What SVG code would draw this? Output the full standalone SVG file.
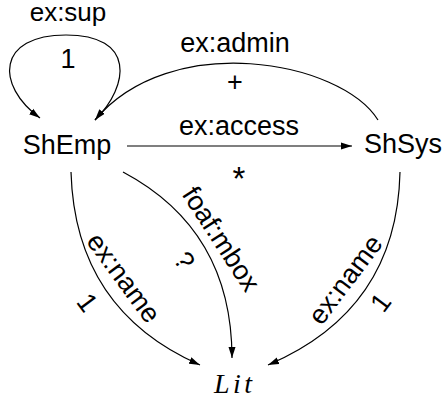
<svg xmlns="http://www.w3.org/2000/svg" width="443" height="400" viewBox="0 0 443 400">
<style>
.lbl{font-family:"Liberation Sans",Arial,sans-serif;font-size:27px;fill:#000}
.node{font-family:"Liberation Sans",Arial,sans-serif;font-size:27px;fill:#000;text-anchor:middle}
.c{text-anchor:middle}
.edge{fill:none;stroke:#000;stroke-width:1.2;marker-end:url(#arr)}
</style>
<defs>
<marker id="arr" markerUnits="userSpaceOnUse" markerWidth="12" markerHeight="8" refX="11" refY="4" orient="auto" viewBox="0 0 12 8">
<path d="M0,0.5 L11,4 L0,7.5 z" fill="#000"/>
</marker>
</defs>
<rect width="443" height="400" fill="#fff"/>
<g id="connectors">
<path class="edge" d="M95,120 C130,85 135,35 66,35 C-3,35 -5,85 40,118"/>
<path class="edge" d="M378,120 C340,60 170,30 95,120"/>
<path class="edge" d="M127,146 L352,146"/>
<path class="edge" d="M71,172 Q75,310 200,365"/>
<path class="edge" d="M123,172 Q232,230 232,358"/>
<path class="edge" d="M400,172 Q397,310 268,365"/>
<text class="lbl c" x="68" y="21" style="font-size:26px">ex:sup</text>
<text class="lbl c" x="68" y="68">1</text>
<text class="lbl c" x="235" y="52">ex:admin</text>
<text class="lbl c" x="235" y="91">+</text>
<text class="lbl c" x="239" y="135">ex:access</text>
<text class="lbl c" x="239" y="190" style="font-size:33px">*</text>
<text class="lbl c" transform="translate(122,279) rotate(53.5)" x="0" y="7">ex:name</text>
<text class="lbl c" transform="translate(88,302) rotate(53.5)" x="0" y="10">1</text>
<text class="lbl c" transform="translate(221,239) rotate(57)" x="0" y="9">foaf:mbox</text>
<text class="lbl c" transform="translate(185,260) rotate(57)" x="0" y="10">?</text>
<text class="lbl c" transform="translate(347,281) rotate(-53)" x="0" y="7">ex:name</text>
<text class="lbl c" transform="translate(380,302) rotate(-53)" x="0" y="10">1</text>
</g>
<g id="ShEmp"><text class="node" x="67" y="154">ShEmp</text></g>
<g id="ShSys"><text class="node" x="403" y="153">ShSys</text></g>
<g id="Lit"><text x="214" y="393" style="font-family:'Liberation Serif','Times New Roman',serif;font-style:italic;font-size:28px;letter-spacing:3.5px">Lit</text></g>
</svg>
